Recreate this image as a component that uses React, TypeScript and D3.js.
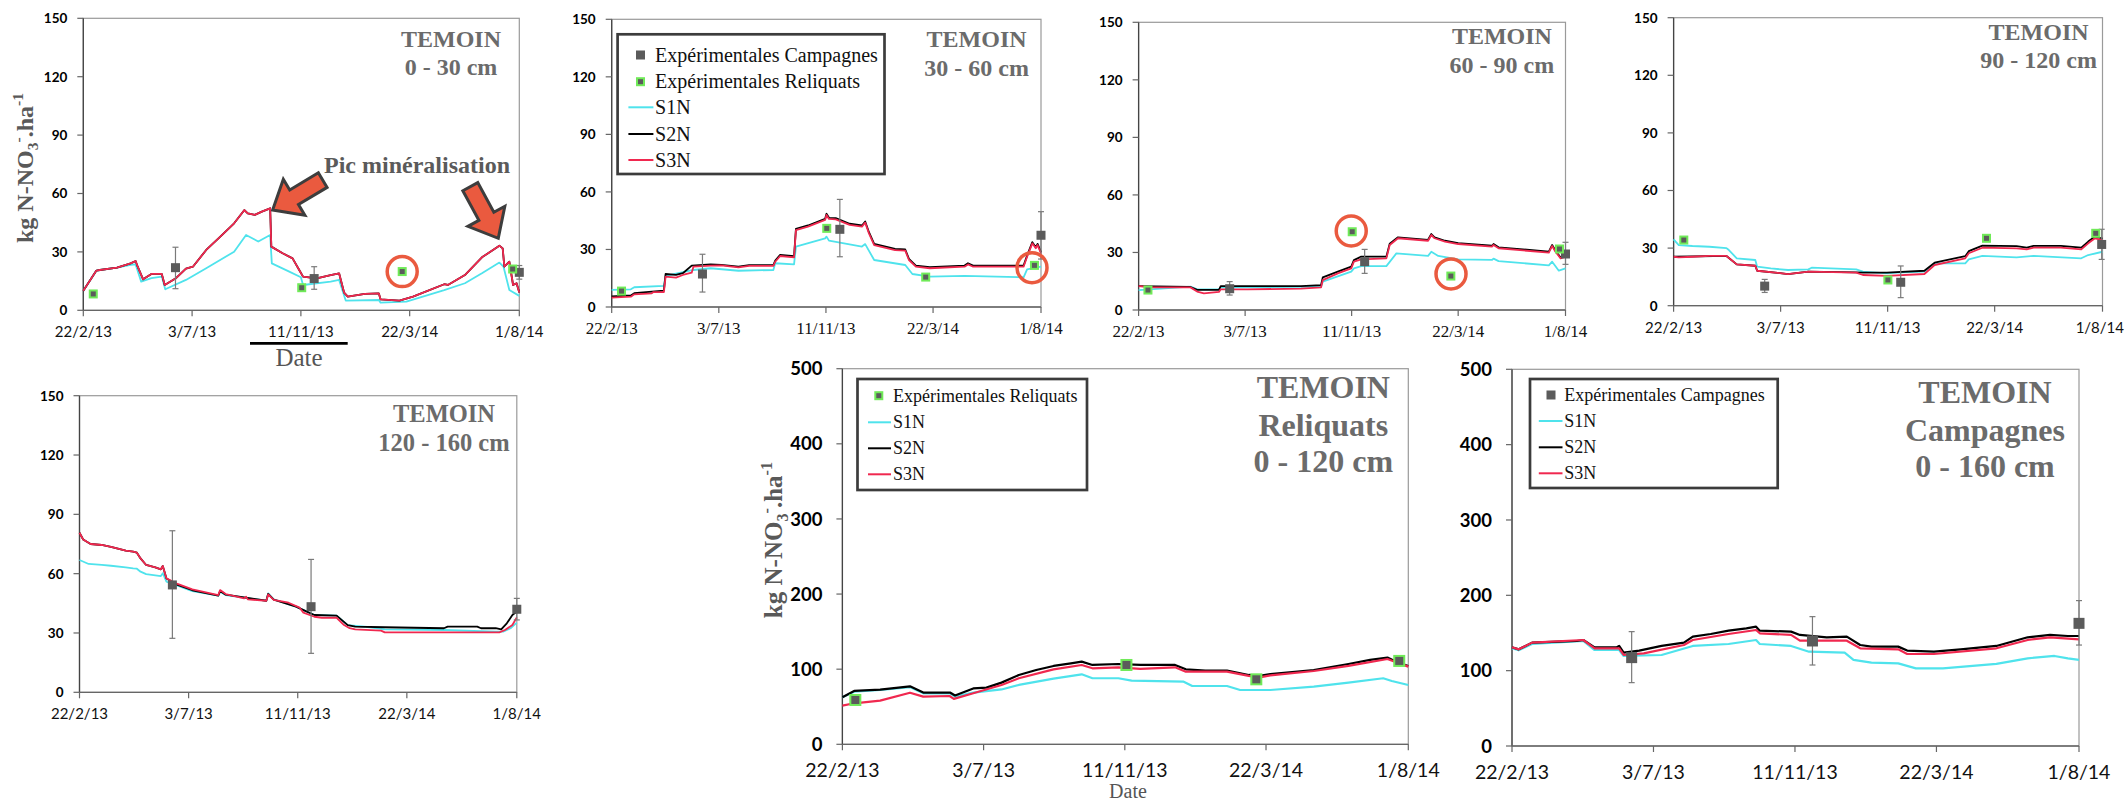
import React from "react";
import * as d3 from "d3";

type Pt = [number, number];
type Exp = [number, number, number, number];

// ---------- axis data ----------
const X_TICK_LABELS = ["22/2/13", "3/7/13", "11/11/13", "22/3/14", "1/8/14"];
const LAYER_Y_TICKS = [0, 30, 60, 90, 120, 150];
const TOTAL_Y_TICKS = [0, 100, 200, 300, 400, 500];

// ---------- series: [days since 22/2/13, kg N-NO3/ha] ----------
// Panel 1 : 0 - 30 cm
const p1S1N: Pt[] = [[0,10],[15.8,20.4],[20,20.7],[40.6,21.9],[57,23.3],[63,23.6],[69.7,14.7],[82,16.5],[94.5,17.3],[98.7,10.8],[123.6,15.6],[148,21.6],[181.6,30.1],[196,38.7],[210.7,35.3],[225,38.7],[227,24.1],[248,19.9],[262,17],[264.6,13],[297.8,14.7],[308,15.6],[316,5],[355.8,5.3],[358,3.9],[389,4.5],[434.6,10.4],[459.5,13.9],[480,19],[501,24.5],[506,22.4],[513,10.4],[525,7.4]];
const p1S2N: Pt[] = [[0,10],[15.8,20.4],[20,20.7],[40.6,21.9],[57,24.1],[63,25.3],[65.5,22.4],[72,15.9],[82,18.7],[94.5,18.7],[98,13],[111,16.3],[123.6,21.4],[132,22.4],[148,31],[165,37.8],[181.6,44.7],[194,51.5],[198,49.8],[206.5,49],[215,50.7],[225,52.4],[226.4,32.7],[240,29.3],[252,26.7],[260,20.7],[264.6,17.3],[281,16.4],[297.8,18.1],[308,19],[314,9.1],[318.5,7],[339,8.4],[355.8,8.7],[358,5.6],[380.7,5],[397,7],[434.6,13.4],[439,13],[459.5,18.1],[480,27.2],[501,33.2],[505,31.8],[507,22.4],[513,25],[517.5,13],[521.7,13.9],[525,9.1]];
const p1S3N: Pt[] = [[0,10],[15.8,20.4],[20,20.7],[40.6,21.9],[57,24.1],[63,25.3],[65.5,22.4],[72,15.9],[82,18.7],[94.5,18.7],[98,13],[111,16.3],[123.6,21.4],[132,22.4],[148,31],[165,37.8],[181.6,44.7],[194,51.5],[198,49.8],[206.5,49],[215,50.7],[225,52.4],[226.4,32.7],[240,29.3],[252,26.7],[260,20.7],[264.6,17.3],[281,16.4],[297.8,18.1],[308,19],[314,9.1],[318.5,7],[339,8.4],[355.8,8.7],[358,5.6],[380.7,5],[397,7],[434.6,13.4],[439,13],[459.5,18.1],[480,27.2],[501,33.2],[505,31.8],[507,22.4],[513,25],[517.5,13],[521.7,13.9],[525,9.1]];
const p1Camp: Exp[] = [[111,21.9,11.1,32.4],[278,16.3,10.8,22.4],[525,19.5,16,23]];
const p1Reliq: Pt[] = [[12,8.4],[263,11.6],[384,19.9],[517,21.2]];
const p1Circles: Pt[] = [[384,19.9]];

// Panel 2 : 30 - 60 cm
const p2S1N: Pt[] = [[0,8.9],[23.4,9.2],[27.6,10.3],[63.8,11],[65.9,16.2],[100,19.3],[121,20.2],[155,18.9],[197.7,19.3],[200,22.8],[223,22.2],[225.3,31.5],[261,35.8],[262.7,36.7],[265.7,34.6],[306,31.5],[310,32.8],[321,24.5],[359,21.9],[367.7,17.2],[389,15.8],[431.5,16.2],[503.7,15.5],[508,19.6],[525,21]];
const p2S2N: Pt[] = [[0,5.5],[23.4,6],[27.6,7.2],[63.8,8.5],[65.9,17.2],[78.6,16.7],[87,17.6],[97.8,21.6],[121,22.2],[134,22],[155,21],[168,21.8],[197.7,21.8],[200,24.2],[206,27.2],[223,26.5],[225.3,40.8],[240,42.5],[261,46],[262.7,48.6],[265.7,46.5],[274,46.3],[291,43.4],[306,42.5],[310,44.6],[314.6,39],[321,32.9],[346.5,30.3],[359,30],[363.5,25.1],[372,21.6],[389,20.8],[431.5,21.6],[435.7,22.8],[442,21.6],[503.7,21.6],[508,26.8],[514.4,33.8],[518.6,31.2],[520.8,32.9],[525,28.6]];
const p2S3N: Pt[] = [[0,4.9],[23.4,5.4],[27.6,6.6],[48.9,7.1],[51,7.8],[63.8,7.8],[65.9,15.8],[78.6,15.3],[87,16.7],[97.8,17.9],[100,21],[121,21.6],[134,21.7],[155,20.7],[168,21.4],[197.7,21.4],[200,23.6],[206,26.6],[223,25.9],[225.3,40.1],[240,41.9],[261,45.4],[262.7,48],[265.7,45.9],[274,45.7],[291,42.8],[306,41.9],[310,44],[314.6,38.4],[321,32.3],[346.5,29.7],[359,29.4],[363.5,24.5],[372,21],[389,20.2],[431.5,21],[435.7,22.2],[442,21],[503.7,21],[508,26.2],[514.4,33.2],[518.6,30.6],[520.8,32.3],[525,28]];
const p2Camp: Exp[] = [[111,17.2,7.8,27.5],[279,40.5,26.2,56.1],[525,37.4,25,49.7]];
const p2Reliq: Pt[] = [[12,8.3],[263,41],[384,15.6],[517,21.7]];
const p2Circles: Pt[] = [[514,20.5]];

// Panel 3 : 60 - 90 cm
const p3S1N: Pt[] = [[0,10.4],[63.8,12.2],[72,10.8],[98.8,10.8],[101,11.8],[224.4,12.2],[226.5,14.8],[261.5,20],[264.8,21.7],[273.8,22.9],[304.7,22.9],[317,29.5],[356,28.2],[360,30.4],[368.5,28.2],[393,26.4],[434.5,26.1],[436.5,26.8],[442.7,25.5],[504.5,23.3],[508.6,25.2],[516.8,20.5],[525,21.7]];
const p3S2N: Pt[] = [[0,12.5],[63.8,12],[72,10.5],[98.8,10.5],[101,12.5],[199.7,12.5],[224.4,13],[226.5,17],[245,20],[261.5,22.6],[264.8,26],[273.8,27.8],[304.7,27.8],[308.8,34.6],[319,37.9],[356,36.6],[360,39.6],[364,37.9],[376.8,36.1],[393,34.9],[434.5,33.5],[436.5,34.4],[442.7,32.7],[504.5,30.4],[508.6,33.9],[512.7,30.9],[519,27.4],[525,28.3]];
const p3S3N: Pt[] = [[0,12.5],[18.5,11.8],[63.8,11.8],[72,9.6],[80.3,8.7],[98.8,9.4],[101,10.8],[133.8,10.8],[199.7,11.1],[224.4,11.8],[226.5,15.6],[245,19.1],[261.5,21.7],[264.8,25.2],[273.8,26.4],[304.7,26.9],[308.8,33.9],[319,37.4],[356,36.1],[360,39.1],[364,37.4],[376.8,35.6],[393,34.4],[434.5,33],[436.5,33.9],[442.7,32.2],[504.5,29.9],[508.6,33.4],[512.7,30.4],[519,26.9],[525,27.8]];
const p3Camp: Exp[] = [[112,11.1,7.8,14.8],[278,25.2,19.1,31.6],[525,29.2,23.8,35.3]];
const p3Reliq: Pt[] = [[11.5,10.4],[262.7,40.8],[384,17.7],[517.6,31.8]];
const p3Circles: Pt[] = [[261.5,41.2],[384.2,18.8]];

// Panel 4 : 90 - 120 cm
const p4S1N: Pt[] = [[0,34.5],[6.3,31.6],[23,31.1],[43.9,30.7],[64.7,30],[66.8,29.3],[77.3,24.7],[100,23.8],[102.3,20.3],[119,19.4],[140,18.6],[165,18.9],[169,19.8],[223.5,18.9],[231.8,17.7],[261,16.8],[273.6,17.2],[307,17.7],[319.5,22],[357,22],[361.3,24.1],[378,25.9],[419.8,25.2],[440.7,25.9],[499,24.7],[507.5,26.4],[525,28.1]];
const p4S2N: Pt[] = [[0,25.5],[64.7,25.9],[77.3,21.5],[100,20.8],[102.3,18.2],[140,16.5],[165,17.7],[223.5,17.4],[231.8,17.2],[261,17.2],[307,18.2],[319.5,22.4],[357,25.8],[361.3,28.4],[378,31.3],[419.8,31],[432.3,30.2],[440.7,31.2],[474,31.2],[499,30.2],[507.5,33.4],[515.8,36],[525,35]];
const p4S3N: Pt[] = [[0,25.5],[6.3,25.2],[23,25.5],[43.9,25.9],[64.7,25.9],[77.3,21.5],[100,20.8],[102.3,18.2],[140,16.5],[165,17.7],[223.5,17.2],[231.8,16],[261,15.5],[307,16.5],[319.5,21.2],[357,24.7],[361.3,27.3],[378,30.2],[419.8,29.9],[432.3,29.3],[440.7,30.2],[474,30.2],[499,29.3],[507.5,32.5],[515.8,35.1],[525,34.2]];
const p4Camp: Exp[] = [[111.5,10.2,6.9,13.7],[278,12.2,4.2,20.7],[524,31.9,24.1,39.8]];
const p4Reliq: Pt[] = [[12.5,34.2],[262.3,13.4],[383,35.1],[516.7,37.7]];

// Panel 5 : 120 - 160 cm
const p5S1N: Pt[] = [[0,66.9],[11,64.9],[26.7,64.4],[37.8,64],[55.5,63.2],[64.4,62.7],[68.9,62.5],[73.3,61],[80,59.8],[97.7,58.8],[100,60.2],[104.4,55.9],[117.7,53.9],[135.5,51.2],[166.6,48.9],[168.8,50.9],[175.5,49.2],[224.3,46.3],[226.5,50],[233.2,47],[259.9,43.3],[273,40.8],[282,39.1],[308.7,38.8],[322,34],[348.7,32.9],[366.5,31.8],[437.5,31.5],[499.7,30.7],[508.6,30.7],[517.5,32.4],[525,35.2]];
const p5S2N: Pt[] = [[0,80.7],[4.4,77.3],[13.3,75],[26.7,74.5],[37.8,73.6],[55.5,71.6],[64.4,71.1],[68.9,70.6],[73.3,67.7],[80,64.4],[91,63.2],[97.7,62.2],[100,63.9],[104.4,57.6],[117.7,54.3],[135.5,51.6],[166.6,48.9],[168.8,51.2],[175.5,49.4],[224.3,46.3],[226.5,49.8],[233.2,46.9],[259.9,43.3],[273,40.8],[282,39.1],[308.7,38.8],[322,34],[331,33.2],[366.5,32.9],[437.5,32.4],[442,33.2],[477.5,33.2],[482,32.4],[499.7,32.4],[506.3,31.8],[513,34.9],[519.7,39.1],[525,40.8]];
const p5S3N: Pt[] = [[0,80.7],[4.4,77.3],[13.3,75],[26.7,74.5],[37.8,73.6],[55.5,71.6],[64.4,71.1],[68.9,70.6],[73.3,67.7],[80,64.4],[91,63.2],[97.7,62.2],[100,63.9],[104.4,57.6],[117.7,54.8],[135.5,52.1],[166.6,49.2],[168.8,51.7],[175.5,49.7],[197.7,47.5],[200,48.4],[202,47],[224.3,46.3],[226.5,49.5],[233.2,46.7],[251,45.3],[264.3,42.8],[268.8,40.3],[282,38.2],[291,37.7],[308.7,37.7],[317.6,34],[324.3,32.4],[331,31.8],[362,31.2],[366.5,30.3],[442,30.3],[504,30.3],[510.8,31.5],[519.7,34],[525,37.9]];
const p5Camp: Exp[] = [[111.5,54.3,27.3,81.7],[278,43.3,19.7,67.2],[525,42,36.6,47.5]];

// Panel 6 : Reliquats 0 - 120 cm
const p6S1N: Pt[] = [[0,62.6],[10.9,70],[35,72.3],[62.7,76.2],[75,67.9],[99.8,67.9],[104.5,63.4],[121.4,68.7],[147.6,73],[163.7,79],[195.9,87.5],[222,93.2],[232,87.9],[256,87.9],[268.3,84.7],[316.6,83.4],[324.6,77.6],[356.8,77.6],[369,72.3],[397,72.3],[437.3,76.8],[469.5,82.1],[501.7,87.9],[509.7,84.3],[525,79]];
const p6S2N: Pt[] = [[0,62.6],[10.9,71],[35,72.8],[62.7,77.2],[75,68.9],[99.8,68.9],[104.5,65],[121.4,74.4],[133.6,75.5],[147.6,82.1],[163.7,92.3],[179.8,98.9],[195.9,104.3],[212,107.8],[222,110],[232,105.6],[256,106.9],[276.4,105.6],[308.6,105.6],[318.6,99.8],[336.7,98.1],[356.8,98.1],[377,92.3],[387,91],[397,93.6],[437.3,98.9],[469.5,106.9],[489.6,112.3],[505.7,115.4],[513.7,110],[525,104.3]];
const p6S3N: Pt[] = [[0,51.4],[10.9,54.6],[35,58.1],[62.7,68.7],[75,63.4],[99.4,64.3],[103.4,60.5],[121.4,67.9],[147.6,79],[163.7,87.9],[195.9,99.8],[222,105.6],[232,101.2],[256,102.5],[276.4,100.3],[308.6,102.5],[318.6,96.7],[356.8,96.7],[377,91],[387,89.2],[397,91.8],[437.3,97.6],[469.5,104.3],[505.7,113.6],[513.7,109.1],[525,103.4]];
const p6Reliq: Pt[] = [[12,59],[263.5,105.6],[384,86.5],[516.6,111]];

// Panel 7 : Campagnes 0 - 160 cm
const p7S1N: Pt[] = [[0,129.7],[6.2,127],[18.6,135.4],[66,139.4],[76.5,127.4],[99.2,127.4],[103.4,119.5],[138.5,120.8],[167.4,132.8],[200.5,135.4],[226,140.7],[229.4,135.4],[258.4,132.8],[275,125.2],[308,123.9],[316.2,114.2],[332.8,110.6],[357.6,109.7],[374,103.1],[399,103.1],[448.5,108.9],[477.5,116.4],[502.3,119.5],[514.7,116.4],[525,114.2]];
const p7S2N: Pt[] = [[0,131],[6.2,128.3],[18.6,137.2],[43.4,138.5],[60,139.4],[66,140.7],[76.5,131],[97.1,131],[99.2,132.8],[103.4,123.9],[117.8,126.6],[138.5,132.8],[159.2,137.2],[167.4,145.1],[184,148.7],[200.5,153.1],[217,156.2],[226,158.4],[229.4,153.1],[258.4,151.8],[266.6,147.4],[291.4,144.3],[310,145.1],[322.4,134.1],[332.8,131.9],[357.6,131.9],[365.9,126.6],[390.7,125.2],[415.5,128.3],[448.5,132.8],[477.5,144.3],[498.2,147.4],[514.7,146],[525,146]];
const p7S3N: Pt[] = [[0,131],[6.2,128.3],[18.6,137.2],[66,140.7],[76.5,129.7],[99.2,129.7],[103.4,120.8],[122,123],[159.2,134.1],[167.4,140.7],[200.5,148.7],[226,154],[229.4,149.6],[258.4,147.4],[266.6,139.8],[310,139.8],[322.4,129.7],[357.6,128.3],[365.9,122.1],[390.7,122.1],[448.5,129.7],[477.5,140.7],[498.2,144.3],[525,141.6]];
const p7Camp: Exp[] = [[110.8,117.3,84.1,151.8],[278.2,139.4,107.5,171.7],[525,162.8,134,193]];

// annotation arrows (tail -> tip, in data coordinates of panel 1)
const p1Arrows: [Pt, Pt][] = [[[288.3,66.9],[228,51.5]],[[466,63.5],[499.7,37]]];

// ---------- styles ----------
const C_S1 = "#4fe3ec";
const C_S2 = "#000000";
const C_S3 = "#f0284f";
const C_MARK = "#5b5b5b";
const C_GREEN = "#70ea58";
const C_RED_ANN = "#ea5a3f";
const SERIF = "'Liberation Serif', 'Times New Roman', serif";
const SANS = "Lato, 'Liberation Sans', sans-serif";
const W = 2125;
const H = 802;

const parse = d3.timeParse("%d/%m/%y");
const START = parse(X_TICK_LABELS[0]) as Date;
const END = parse(X_TICK_LABELS[X_TICK_LABELS.length - 1]) as Date;
const TICK_DATES = X_TICK_LABELS.map((s) => parse(s) as Date);
const toDate = (d: number) => new Date(START.getTime() + d * 864e5);

type LegendCfg = { x0: number; y0: number; x1: number; y1: number; rows: number[]; markX: number; lineX0: number; lineX1: number; textX: number; size: number; items: string[] };

type PanelCfg = {
  left: number; right: number; top: number; bottom: number;
  yTicks: number[];
  s1: Pt[]; s2: Pt[]; s3: Pt[];
  camp: Exp[]; reliq: Pt[]; circles: Pt[];
  titles: string[]; titleX: number; titleY: number[]; titleSize: number;
  yLabSize: number; yLabGap: number;
  xLabSize: number; xLabFont: string; xLabDy: number;
  mark: number; lineW: number;
  legend?: LegendCfg;
  arrows?: [Pt, Pt][];
};

const LEG_ITEMS_FULL = ["Expérimentales Campagnes", "Expérimentales Reliquats", "S1N", "S2N", "S3N"];
const LEG_ITEMS_REL = ["Expérimentales Reliquats", "S1N", "S2N", "S3N"];
const LEG_ITEMS_CAMP = ["Expérimentales Campagnes", "S1N", "S2N", "S3N"];

const panels: PanelCfg[] = [
  { left: 83.3, right: 519.3, top: 18.3, bottom: 310.3, yTicks: LAYER_Y_TICKS, s1: p1S1N, s2: p1S2N, s3: p1S3N, camp: p1Camp, reliq: p1Reliq, circles: p1Circles,
    titles: ["TEMOIN", "0 - 30 cm"], titleX: 451, titleY: [47, 75], titleSize: 24, yLabSize: 13.5, yLabGap: 16, xLabSize: 15, xLabFont: SANS, xLabDy: 27, mark: 9, lineW: 1.8, arrows: p1Arrows },
  { left: 611.7, right: 1041, top: 19.3, bottom: 307, yTicks: LAYER_Y_TICKS, s1: p2S1N, s2: p2S2N, s3: p2S3N, camp: p2Camp, reliq: p2Reliq, circles: p2Circles,
    titles: ["TEMOIN", "30 - 60 cm"], titleX: 976.6, titleY: [47, 76], titleSize: 24, yLabSize: 13.5, yLabGap: 16, xLabSize: 17, xLabFont: SERIF, xLabDy: 27, mark: 9, lineW: 1.8,
    legend: { x0: 617.6, y0: 34.3, x1: 884.5, y1: 174, rows: [55, 81.7, 107.3, 134, 160], markX: 640.5, lineX0: 628.4, lineX1: 653.4, textX: 655.1, size: 20, items: LEG_ITEMS_FULL } },
  { left: 1138.6, right: 1565.5, top: 22.3, bottom: 310, yTicks: LAYER_Y_TICKS, s1: p3S1N, s2: p3S2N, s3: p3S3N, camp: p3Camp, reliq: p3Reliq, circles: p3Circles,
    titles: ["TEMOIN", "60 - 90 cm"], titleX: 1501.9, titleY: [44, 73], titleSize: 24, yLabSize: 13.5, yLabGap: 16, xLabSize: 17, xLabFont: SERIF, xLabDy: 27, mark: 9, lineW: 1.8 },
  { left: 1673.6, right: 2102.5, top: 17.7, bottom: 305.7, yTicks: LAYER_Y_TICKS, s1: p4S1N, s2: p4S2N, s3: p4S3N, camp: p4Camp, reliq: p4Reliq, circles: [],
    titles: ["TEMOIN", "90 - 120 cm"], titleX: 2038.6, titleY: [40, 68], titleSize: 24, yLabSize: 13.5, yLabGap: 16, xLabSize: 15, xLabFont: SANS, xLabDy: 27, mark: 9, lineW: 1.8 },
  { left: 79.5, right: 516.8, top: 395.7, bottom: 692.3, yTicks: LAYER_Y_TICKS, s1: p5S1N, s2: p5S2N, s3: p5S3N, camp: p5Camp, reliq: [], circles: [],
    titles: ["TEMOIN", "120 - 160 cm"], titleX: 444, titleY: [421.7, 451], titleSize: 24.5, yLabSize: 13.5, yLabGap: 16, xLabSize: 15, xLabFont: SANS, xLabDy: 27, mark: 9, lineW: 1.8 },
  { left: 842.4, right: 1408.3, top: 368.7, bottom: 744.3, yTicks: TOTAL_Y_TICKS, s1: p6S1N, s2: p6S2N, s3: p6S3N, camp: [], reliq: p6Reliq, circles: [],
    titles: ["TEMOIN", "Reliquats", "0 - 120 cm"], titleX: 1323.3, titleY: [398, 436, 472], titleSize: 32, yLabSize: 18.5, yLabGap: 20, xLabSize: 19.5, xLabFont: SANS, xLabDy: 33, mark: 12, lineW: 2.2,
    legend: { x0: 857.5, y0: 379, x1: 1087, y1: 490, rows: [395.7, 422.3, 448.3, 474.3], markX: 878.8, lineX0: 868, lineX1: 891, textX: 893.1, size: 18, items: LEG_ITEMS_REL } },
  { left: 1512, right: 2079, top: 369.3, bottom: 746, yTicks: TOTAL_Y_TICKS, s1: p7S1N, s2: p7S2N, s3: p7S3N, camp: p7Camp, reliq: [], circles: [],
    titles: ["TEMOIN", "Campagnes", "0 - 160 cm"], titleX: 1985, titleY: [403, 441, 477], titleSize: 32, yLabSize: 18.5, yLabGap: 20, xLabSize: 19.5, xLabFont: SANS, xLabDy: 33, mark: 11, lineW: 2.2,
    legend: { x0: 1530, y0: 379, x1: 1777.7, y1: 488, rows: [395, 421, 447.3, 473.3], markX: 1551, lineX0: 1538.8, lineX1: 1562.5, textX: 1564.3, size: 18, items: LEG_ITEMS_CAMP } },
];

function Legend({ cfg }: { cfg: LegendCfg }) {
  const colorOf: Record<string, string> = { S1N: C_S1, S2N: C_S2, S3N: C_S3 };
  const mark = 9;
  return (
    <g>
      <rect x={cfg.x0} y={cfg.y0} width={cfg.x1 - cfg.x0} height={cfg.y1 - cfg.y0} fill="#fff" stroke="#3c3c3c" strokeWidth={2.7} />
      {cfg.items.map((it, i) => {
        const yy = cfg.rows[i];
        let sym: React.ReactNode;
        if (it.includes("Campagnes")) {
          sym = <rect x={cfg.markX - mark / 2} y={yy - mark / 2} width={mark} height={mark} fill={C_MARK} />;
        } else if (it.includes("Reliquats")) {
          sym = <rect x={cfg.markX - (mark - 2) / 2} y={yy - (mark - 2) / 2} width={mark - 2} height={mark - 2} fill={C_MARK} stroke={C_GREEN} strokeWidth={2} />;
        } else {
          sym = <line x1={cfg.lineX0} x2={cfg.lineX1} y1={yy} y2={yy} stroke={colorOf[it]} strokeWidth={2} />;
        }
        return (
          <g key={it}>
            {sym}
            <text x={cfg.textX} y={yy + cfg.size * 0.33} fontFamily={SERIF} fontSize={cfg.size} fill="#111">{it}</text>
          </g>
        );
      })}
    </g>
  );
}

function Arrow({ tail, tip }: { tail: [number, number]; tip: [number, number] }) {
  const dx = tip[0] - tail[0];
  const dy = tip[1] - tail[1];
  const L = Math.hypot(dx, dy);
  const ux = dx / L, uy = dy / L;
  const nx = -uy, ny = ux;
  const h = 25, hw = 21, sw = 8.5;
  const bx = tip[0] - ux * h, by = tip[1] - uy * h;
  const pts: [number, number][] = [
    [tail[0] + nx * sw, tail[1] + ny * sw],
    [bx + nx * sw, by + ny * sw],
    [bx + nx * hw, by + ny * hw],
    [tip[0], tip[1]],
    [bx - nx * hw, by - ny * hw],
    [bx - nx * sw, by - ny * sw],
    [tail[0] - nx * sw, tail[1] - ny * sw],
  ];
  return <polygon points={pts.map((p) => p.join(",")).join(" ")} fill={C_RED_ANN} stroke="#3d3d3d" strokeWidth={3} strokeLinejoin="miter" />;
}

function Panel({ cfg }: { cfg: PanelCfg }) {
  const ymax = cfg.yTicks[cfg.yTicks.length - 1];
  const x = d3.scaleTime().domain([START, END]).range([cfg.left, cfg.right]);
  const y = d3.scaleLinear().domain([0, ymax]).range([cfg.bottom, cfg.top]);
  const px = (d: number) => x(toDate(d));
  const line = d3.line<Pt>().x((d) => px(d[0])).y((d) => y(d[1]));
  const m = cfg.mark;
  return (
    <g>
      <rect x={cfg.left} y={cfg.top} width={cfg.right - cfg.left} height={cfg.bottom - cfg.top} fill="#fff" stroke="#9a9a9a" strokeWidth={1.2} />
      <line x1={cfg.left} x2={cfg.left} y1={cfg.top} y2={cfg.bottom} stroke="#444" strokeWidth={1.3} />
      <line x1={cfg.left} x2={cfg.right} y1={cfg.bottom} y2={cfg.bottom} stroke="#666" strokeWidth={1.3} />
      {cfg.yTicks.map((t) => (
        <g key={"y" + t}>
          <line x1={cfg.left - 6} x2={cfg.left} y1={y(t)} y2={y(t)} stroke="#666" strokeWidth={1.2} />
          <text x={cfg.left - cfg.yLabGap} y={y(t)} dy="0.36em" textAnchor="end" fontFamily={SANS} fontWeight="bold" fontSize={cfg.yLabSize} fill="#000">{t}</text>
        </g>
      ))}
      {TICK_DATES.map((dt, i) => {
        const tx = x(dt);
        const half = cfg.xLabSize * 1.6;
        const overflow = tx + half > W - 1;
        return (
          <g key={"x" + i}>
            <line x1={tx} x2={tx} y1={cfg.bottom} y2={cfg.bottom + 6} stroke="#666" strokeWidth={1.2} />
            <text x={overflow ? W - 1 : tx} y={cfg.bottom + cfg.xLabDy} textAnchor={overflow ? "end" : "middle"} fontFamily={cfg.xLabFont} fontSize={cfg.xLabSize} fill="#111">{X_TICK_LABELS[i]}</text>
          </g>
        );
      })}
      <path d={line(cfg.s1) || ""} fill="none" stroke={C_S1} strokeWidth={cfg.lineW} strokeLinejoin="round" />
      <path d={line(cfg.s2) || ""} fill="none" stroke={C_S2} strokeWidth={cfg.lineW} strokeLinejoin="round" />
      <path d={line(cfg.s3) || ""} fill="none" stroke={C_S3} strokeWidth={cfg.lineW} strokeLinejoin="round" />
      {cfg.camp.map((e, i) => (
        <g key={"c" + i}>
          <line x1={px(e[0])} x2={px(e[0])} y1={y(e[2])} y2={y(e[3])} stroke="#7a7a7a" strokeWidth={1.2} />
          <line x1={px(e[0]) - 3} x2={px(e[0]) + 3} y1={y(e[2])} y2={y(e[2])} stroke="#7a7a7a" strokeWidth={1.2} />
          <line x1={px(e[0]) - 3} x2={px(e[0]) + 3} y1={y(e[3])} y2={y(e[3])} stroke="#7a7a7a" strokeWidth={1.2} />
          <rect x={px(e[0]) - m / 2} y={y(e[1]) - m / 2} width={m} height={m} fill={C_MARK} />
        </g>
      ))}
      {cfg.reliq.map((r, i) => (
        <rect key={"r" + i} x={px(r[0]) - (m - 2) / 2} y={y(r[1]) - (m - 2) / 2} width={m - 2} height={m - 2} fill={C_MARK} stroke={C_GREEN} strokeWidth={2} />
      ))}
      {cfg.circles.map((c, i) => (
        <circle key={"o" + i} cx={px(c[0])} cy={y(c[1])} r={15} fill="none" stroke={C_RED_ANN} strokeWidth={3.5} />
      ))}
      {cfg.arrows && cfg.arrows.map((a, i) => (
        <Arrow key={"a" + i} tail={[px(a[0][0]), y(a[0][1])]} tip={[px(a[1][0]), y(a[1][1])]} />
      ))}
      {cfg.titles.map((t, i) => (
        <text key={"t" + i} x={cfg.titleX} y={cfg.titleY[i]} textAnchor="middle" fontFamily={SERIF} fontWeight="bold" fontSize={cfg.titleSize} fill="#6b6b6b">{t}</text>
      ))}
      {cfg.legend && <Legend cfg={cfg.legend} />}
    </g>
  );
}

function YTitle({ x, y, size }: { x: number; y: number; size: number }) {
  const s = size * 0.65;
  return (
    <text transform={`translate(${x},${y}) rotate(-90)`} textAnchor="middle" fontFamily={SERIF} fontWeight="bold" fontSize={size} fill="#595959">
      kg N-NO<tspan fontSize={s} dy={size * 0.22}>3</tspan>
      <tspan fontSize={s} dy={-size * 0.62}>-</tspan>
      <tspan dy={size * 0.4}>.ha</tspan>
      <tspan fontSize={s} dy={-size * 0.4}>-1</tspan>
    </text>
  );
}

export default function App() {
  return (
    <svg width={W} height={H} style={{ position: "absolute", left: 0, top: 0, background: "#fff" }}>
      <rect x={0} y={0} width={W} height={H} fill="#fff" />
      {panels.map((p, i) => <Panel key={i} cfg={p} />)}
      <text x={324} y={172.7} fontFamily={SERIF} fontWeight="bold" fontSize={24} fill="#5a5a5a">Pic minéralisation</text>
      <YTitle x={33} y={168} size={24} />
      <YTitle x={782} y={540} size={25} />
      <line x1={250} x2={347.7} y1={343.3} y2={343.3} stroke="#000" strokeWidth={2.7} />
      <text x={299} y={366} textAnchor="middle" fontFamily={SERIF} fontSize={25} fill="#555">Date</text>
      <text x={1128} y={797.5} textAnchor="middle" fontFamily={SERIF} fontSize={20} fill="#555">Date</text>
    </svg>
  );
}
